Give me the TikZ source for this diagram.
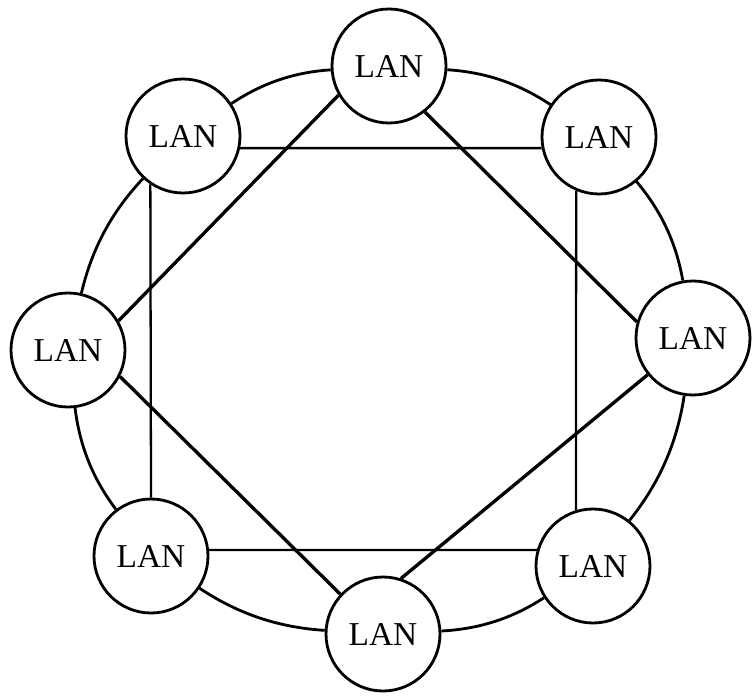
\documentclass[tikz,border=0pt]{standalone}
\usepackage{fontspec}
\setmainfont{Liberation Serif}
\usepackage{tikz}
\usetikzlibrary{positioning}

\begin{document}
\begin{tikzpicture}[
  font=\fontsize{19}{22}\selectfont,
  lan/.style={draw, circle, line width=1.6pt, minimum size=22.8mm, inner sep=0pt, fill=white},
  ring/.style={line width=1.6pt},
  chord/.style={line width=1.3pt},
  cross/.style={line width=1.9pt},
]
  \useasboundingbox (0,0) rectangle (15.04,13.96);
  \node[lan] (top) at (7.78,12.64) {LAN};
  \node[lan] (tr)  at (11.98,11.22) {LAN};
  \node[lan] (r)   at (13.86,7.20) {LAN};
  \node[lan] (br)  at (11.86,2.64) {LAN};
  \node[lan] (b)   at (7.66,1.28) {LAN};
  \node[lan] (bl)  at (3.02,2.84) {LAN};
  \node[lan] (l)   at (1.36,6.96) {LAN};
  \node[lan] (tl)  at (3.66,11.24) {LAN};
  % outer ring
  \foreach \a/\b in {top/tl, tl/l, l/bl, bl/b, b/br, br/r, r/tr, tr/top}
    \draw[ring] (\a) to[bend right=15, looseness=0.9] (\b);
  % square
  \draw[chord] (tl.-12) -- (tr.191);
  \draw[chord] (tr.-113) -- (br.107);
  \draw[chord] (br.164) -- (bl.6);
  \draw[chord] (bl.north) -- (tl.-124);
  % diamond
  \draw[cross] (top.210) -- (l.30);
  \draw[cross] (top.-52) -- (r.164);
  \draw[cross] (r.219) -- (b.72);
  \draw[cross] (l.-27) -- (b.137);
\end{tikzpicture}
\end{document}
